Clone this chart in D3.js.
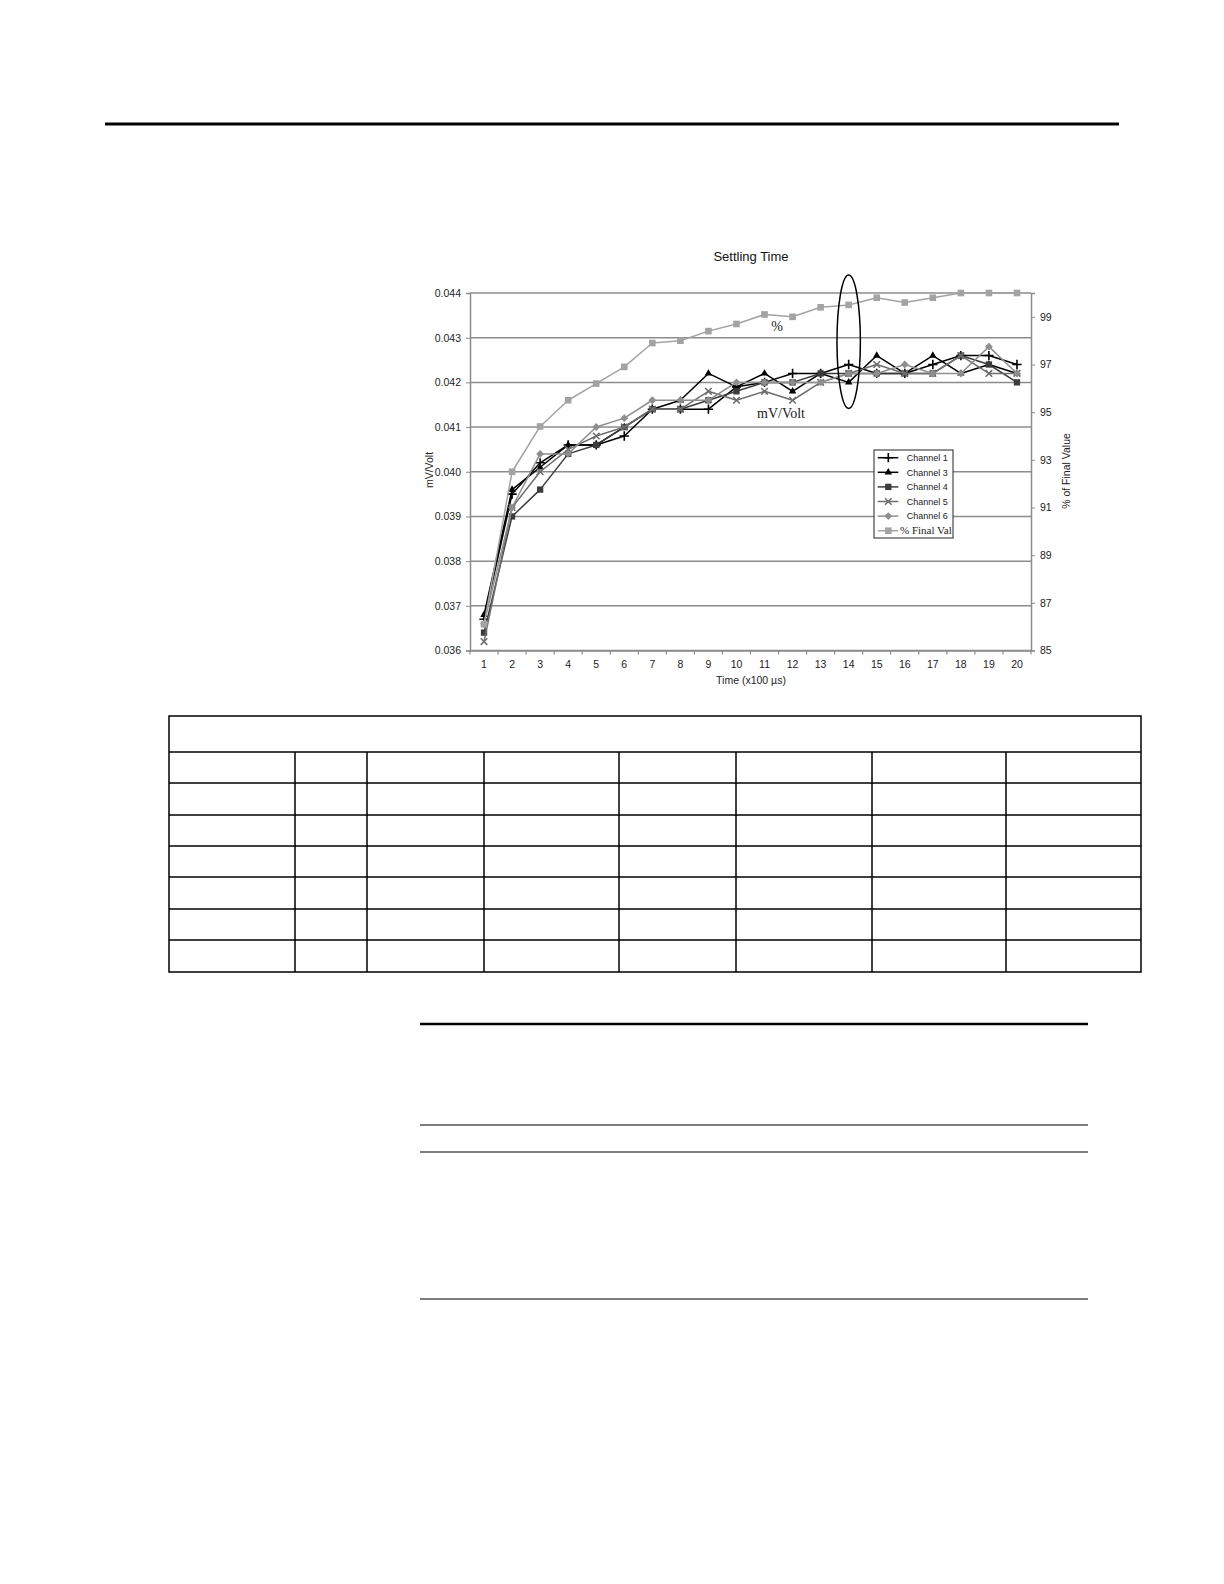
<!DOCTYPE html>
<html>
<head>
<meta charset="utf-8">
<script src="https://cdn.jsdelivr.net/npm/d3@7"></script>
<style>
  html, body { margin: 0; padding: 0; background: #fff; }
  svg { display: block; }
</style>
</head>
<body>
<div class="page"></div>
<script>
// time steps (x100 µs)
const times = ["1","2","3","4","5","6","7","8","9","10","11","12","13","14","15","16","17","18","19","20"];

// mV/Volt readings per channel
const channel1 = [0.0367,0.0395,0.0402,0.0406,0.0406,0.0408,0.0414,0.0414,0.0414,0.0419,0.0420,0.0422,0.0422,0.0424,0.0422,0.0422,0.0424,0.0426,0.0426,0.0424];
const channel3 = [0.0368,0.0396,0.0401,0.0406,0.0406,0.0410,0.0414,0.0416,0.0422,0.0419,0.0422,0.0418,0.0422,0.0420,0.0426,0.0422,0.0426,0.0422,0.0424,0.0422];
const channel4 = [0.0364,0.0390,0.0396,0.0404,0.0406,0.0410,0.0414,0.0414,0.0416,0.0418,0.0420,0.0420,0.0422,0.0422,0.0422,0.0422,0.0422,0.0426,0.0424,0.0420];
const channel5 = [0.0362,0.0392,0.0400,0.0405,0.0408,0.0410,0.0414,0.0414,0.0418,0.0416,0.0418,0.0416,0.0420,0.0422,0.0424,0.0422,0.0422,0.0426,0.0422,0.0422];
const channel6 = [0.0366,0.0392,0.0404,0.0404,0.0410,0.0412,0.0416,0.0416,0.0416,0.0420,0.0420,0.0420,0.0420,0.0422,0.0422,0.0424,0.0422,0.0422,0.0428,0.0422];

// % of final value (right axis)
const pctFinal = [86.1,92.5,94.4,95.5,96.2,96.9,97.9,98.0,98.4,98.7,99.1,99.0,99.4,99.5,99.8,99.6,99.8,100,100,100];

const leftTicks = [0.036,0.037,0.038,0.039,0.040,0.041,0.042,0.043,0.044];
const rightTicks = [85,87,89,91,93,95,97,99];

const seriesNames = ["Channel 1","Channel 3","Channel 4","Channel 5","Channel 6","% Final Val"];

// table grid (blank cells)
const tableCols = [169,295,367,484,619,736,872,1006,1141];
const tableRows = [716,752,783,815,846,877,909,940,972];

document.addEventListener("DOMContentLoaded", function() {
    const W = 1224, H = 1584;
    const SANS = "'Liberation Sans', Arial, sans-serif";
    const SERIF = "'Liberation Serif', 'Times New Roman', serif";
    const AXIS_GREY = "#8c8c8c";

    const svg = d3.select(".page").append("svg")
        .attr("width", W)
        .attr("height", H);

    // page rules
    svg.append("line").attr("x1", 105).attr("x2", 1119).attr("y1", 124).attr("y2", 124)
        .attr("stroke", "#000").attr("stroke-width", 3);

    // ---------- chart ----------
    const plot = { left: 470, right: 1031, top: 293, bottom: 650.5 };

    const x = d3.scaleBand()
        .domain(times)
        .range([plot.left, plot.right]);
    const cx = d => x(d) + x.bandwidth() / 2;

    const yL = d3.scaleLinear().domain([0.036, 0.044]).range([plot.bottom, plot.top]);
    const yR = d3.scaleLinear().domain([85, 100]).range([plot.bottom, plot.top]);

    const chart = svg.append("g");

    // gridlines
    chart.selectAll("line.grid")
        .data(leftTicks)
        .enter().append("line")
        .attr("class", "grid")
        .attr("x1", plot.left).attr("x2", plot.right)
        .attr("y1", d => yL(d)).attr("y2", d => yL(d))
        .attr("stroke", AXIS_GREY).attr("stroke-width", 1.5);

    // left axis
    const gLeft = chart.append("g")
        .attr("transform", `translate(${plot.left},0)`)
        .call(d3.axisLeft(yL).tickValues(leftTicks).tickFormat(d3.format(".3f")).tickSize(4).tickPadding(5));

    // right axis
    const gRight = chart.append("g")
        .attr("transform", `translate(${plot.right},0)`)
        .call(d3.axisRight(yR).tickValues(rightTicks).tickFormat(d3.format("d")).tickSize(4).tickPadding(5));

    // bottom axis, ticks between categories like a spreadsheet chart
    const gBottom = chart.append("g")
        .attr("transform", `translate(0,${plot.bottom})`)
        .call(d3.axisBottom(x).tickSize(0).tickPadding(10));
    gBottom.selectAll("line.sep")
        .data(times.concat(["end"]))
        .enter().append("line")
        .attr("class", "sep")
        .attr("x1", d => d === "end" ? plot.right : x(d))
        .attr("x2", d => d === "end" ? plot.right : x(d))
        .attr("y1", 0).attr("y2", 4)
        .attr("stroke", AXIS_GREY).attr("stroke-width", 1.2);

    [gLeft, gRight, gBottom].forEach(g => {
        g.select(".domain").attr("stroke", AXIS_GREY).attr("stroke-width", 1.5);
        g.selectAll(".tick line").attr("stroke", AXIS_GREY);
        g.selectAll("text").attr("font-family", SANS).attr("font-size", 10.5).attr("fill", "#222");
    });

    // titles
    chart.append("text")
        .attr("x", 751).attr("y", 261)
        .attr("text-anchor", "middle")
        .attr("font-family", SANS).attr("font-size", 13).attr("fill", "#111")
        .text("Settling Time");

    chart.append("text")
        .attr("x", 751).attr("y", 684)
        .attr("text-anchor", "middle")
        .attr("font-family", SANS).attr("font-size", 10.5).attr("fill", "#222")
        .text("Time (x100 µs)");

    chart.append("text")
        .attr("transform", "translate(433,470) rotate(-90)")
        .attr("text-anchor", "middle")
        .attr("font-family", SANS).attr("font-size", 10.5).attr("fill", "#222")
        .text("mV/Volt");

    chart.append("text")
        .attr("transform", "translate(1070,471) rotate(-90)")
        .attr("text-anchor", "middle")
        .attr("font-family", SANS).attr("font-size", 10.5).attr("fill", "#222")
        .text("% of Final Value");

    // series
    const series = [
        { name: seriesNames[0], values: channel1, scale: yL, color: "#000000", symbol: d3.symbolPlus,     size: 30, stroke: true },
        { name: seriesNames[1], values: channel3, scale: yL, color: "#000000", symbol: d3.symbolTriangle, size: 24, stroke: false },
        { name: seriesNames[2], values: channel4, scale: yL, color: "#3c3c3c", symbol: d3.symbolSquare,   size: 40, stroke: false },
        { name: seriesNames[3], values: channel5, scale: yL, color: "#6e6e6e", symbol: d3.symbolTimes,    size: 30, stroke: true },
        { name: seriesNames[4], values: channel6, scale: yL, color: "#8e8e8e", symbol: d3.symbolDiamond2, size: 40, stroke: false },
        { name: seriesNames[5], values: pctFinal, scale: yR, color: "#a3a3a3", symbol: d3.symbolSquare,   size: 44, stroke: false }
    ];

    function drawMarker(sel, s) {
        const path = d3.symbol().type(s.symbol).size(s.size)();
        sel.attr("d", path);
        if (s.stroke) {
            sel.attr("fill", "none").attr("stroke", s.color).attr("stroke-width", 1.6);
        } else {
            sel.attr("fill", s.color).attr("stroke", "none");
        }
    }

    series.forEach(s => {
        const line = d3.line()
            .x((d, i) => cx(times[i]))
            .y(d => s.scale(d));

        const g = chart.append("g");
        g.append("path")
            .datum(s.values)
            .attr("d", line)
            .attr("fill", "none")
            .attr("stroke", s.color)
            .attr("stroke-width", 1.5)
            .attr("stroke-linejoin", "round");

        g.selectAll("path.mark")
            .data(s.values)
            .enter().append("path")
            .attr("class", "mark")
            .attr("transform", (d, i) => `translate(${cx(times[i])},${s.scale(d)})`)
            .call(sel => drawMarker(sel, s));
    });

    // annotations
    chart.append("text")
        .attr("x", 777).attr("y", 331)
        .attr("text-anchor", "middle")
        .attr("font-family", SERIF).attr("font-size", 14).attr("fill", "#222")
        .text("%");

    chart.append("text")
        .attr("x", 781).attr("y", 418)
        .attr("text-anchor", "middle")
        .attr("font-family", SERIF).attr("font-size", 14).attr("fill", "#222")
        .text("mV/Volt");

    chart.append("ellipse")
        .attr("cx", cx("14")).attr("cy", 341.7)
        .attr("rx", 11.7).attr("ry", 66.7)
        .attr("fill", "none").attr("stroke", "#000").attr("stroke-width", 1.5);

    // legend
    const legend = chart.append("g").attr("transform", "translate(874,450)");
    legend.append("rect")
        .attr("width", 79).attr("height", 88)
        .attr("fill", "#fff").attr("stroke", "#222").attr("stroke-width", 1);

    const rowH = 14.6;
    series.forEach((s, i) => {
        const row = legend.append("g").attr("transform", `translate(0,${7.7 + i * rowH})`);
        row.append("line")
            .attr("x1", 3.7).attr("x2", 24.3)
            .attr("stroke", s.color).attr("stroke-width", 1.5);
        row.append("path")
            .attr("transform", "translate(14.3,0)")
            .call(sel => drawMarker(sel, s));
        const isPct = i === series.length - 1;
        row.append("text")
            .attr("x", isPct ? 26 : 32.7).attr("y", 3.3)
            .attr("font-family", isPct ? SERIF : SANS)
            .attr("font-size", isPct ? 11 : 9)
            .attr("fill", "#222")
            .text(s.name);
    });

    // ---------- blank table ----------
    const table = svg.append("g");
    table.append("rect")
        .attr("x", tableCols[0]).attr("y", tableRows[0])
        .attr("width", tableCols[tableCols.length - 1] - tableCols[0])
        .attr("height", tableRows[tableRows.length - 1] - tableRows[0])
        .attr("fill", "none").attr("stroke", "#000").attr("stroke-width", 1.5);

    table.selectAll("line.row")
        .data(tableRows.slice(1, -1))
        .enter().append("line")
        .attr("class", "row")
        .attr("x1", tableCols[0]).attr("x2", tableCols[tableCols.length - 1])
        .attr("y1", d => d).attr("y2", d => d)
        .attr("stroke", "#000").attr("stroke-width", 1.5);

    table.selectAll("line.col")
        .data(tableCols.slice(1, -1))
        .enter().append("line")
        .attr("class", "col")
        .attr("x1", d => d).attr("x2", d => d)
        .attr("y1", tableRows[1]).attr("y2", tableRows[tableRows.length - 1])
        .attr("stroke", "#000").attr("stroke-width", 1.5);

    // lower rules
    const rules = [
        { y: 1024, w: 2.5 },
        { y: 1125, w: 1.2 },
        { y: 1152, w: 1.2 },
        { y: 1299, w: 1.2 }
    ];
    svg.selectAll("line.rule")
        .data(rules)
        .enter().append("line")
        .attr("class", "rule")
        .attr("x1", 420).attr("x2", 1088)
        .attr("y1", d => d.y).attr("y2", d => d.y)
        .attr("stroke", "#000").attr("stroke-width", d => d.w);
});
</script>
</body>
</html>
